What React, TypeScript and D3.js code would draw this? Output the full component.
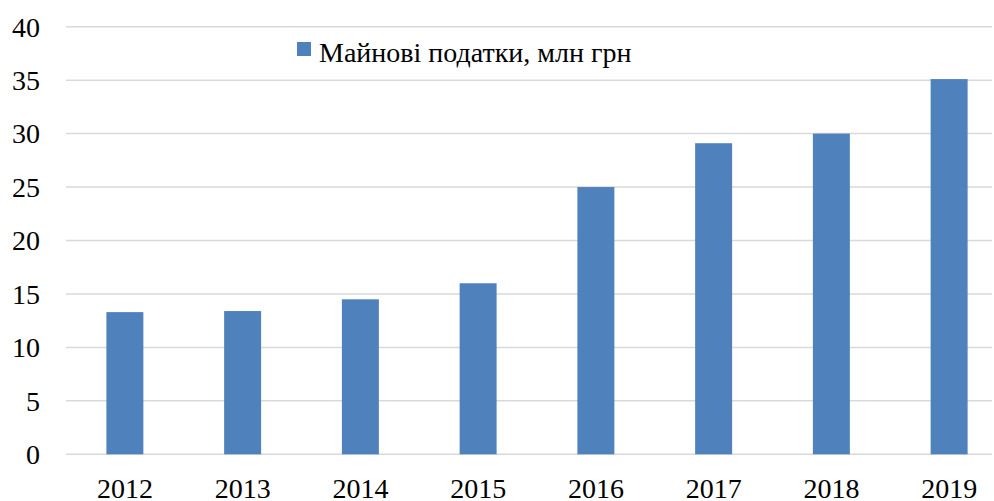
import { useEffect, useRef } from "react"
import * as d3 from "d3"

const years = ["2012", "2013", "2014", "2015", "2016", "2017", "2018", "2019"]
const propertyTax = [13.3, 13.4, 14.5, 16.0, 25.0, 29.1, 30.0, 35.1]
const yTicks = [0, 5, 10, 15, 20, 25, 30, 35, 40]
const seriesName = "Майнові податки, млн грн"

const WIDTH = 994
const HEIGHT = 501

export default function App() {
  const svgRef = useRef<SVGSVGElement>(null)

  useEffect(() => {
    if (!svgRef.current) return
    const svg = d3.select(svgRef.current)
    svg.selectAll("*").remove()

    const font = "'Times New Roman', Tinos, 'Noto Serif', FreeSerif, 'Liberation Serif', 'DejaVu Serif', serif"

    const x = d3.scaleBand().domain(years).range([66, 1008]).paddingInner(0.686).paddingOuter(0.343)
    const y = d3.scaleLinear().domain([0, 40]).range([454.3, 26.7])

    // gridlines
    svg
      .append("g")
      .selectAll("line")
      .data(yTicks)
      .enter()
      .append("line")
      .attr("x1", 66)
      .attr("x2", 992)
      .attr("y1", (d) => y(d))
      .attr("y2", (d) => y(d))
      .attr("stroke", "#d9d9d9")
      .attr("stroke-width", 1.5)

    // bars
    svg
      .append("g")
      .selectAll("rect")
      .data(propertyTax)
      .enter()
      .append("rect")
      .attr("x", (_, i) => x(years[i]) || 0)
      .attr("y", (d) => y(d))
      .attr("width", x.bandwidth())
      .attr("height", (d) => y(0) - y(d))
      .attr("fill", "#4f81bd")

    // y labels
    svg
      .append("g")
      .selectAll("text")
      .data(yTicks)
      .enter()
      .append("text")
      .attr("x", 40)
      .attr("y", (d) => y(d))
      .attr("dy", "0.35em")
      .attr("text-anchor", "end")
      .style("font-family", font)
      .style("font-size", "28px")
      .attr("fill", "#000")
      .text((d) => d)

    // x labels (partly cut by the bottom edge, as in the source image)
    svg
      .append("g")
      .selectAll("text")
      .data(years)
      .enter()
      .append("text")
      .attr("x", (d) => (x(d) || 0) + x.bandwidth() / 2)
      .attr("y", 498)
      .attr("text-anchor", "middle")
      .style("font-family", font)
      .style("font-size", "28px")
      .attr("fill", "#000")
      .text((d) => d)

    // legend
    const legend = svg.append("g")
    legend.append("rect").attr("x", 297).attr("y", 42).attr("width", 14).attr("height", 14).attr("fill", "#4f81bd")
    legend
      .append("text")
      .attr("x", 319)
      .attr("y", 61.5)
      .style("font-family", font)
      .style("font-size", "28px")
      .attr("fill", "#000")
      .text(seriesName)
  }, [])

  return (
    <svg
      ref={svgRef}
      width={WIDTH}
      height={HEIGHT}
      style={{ position: "absolute", left: 0, top: 0, background: "#fff" }}
    />
  )
}
